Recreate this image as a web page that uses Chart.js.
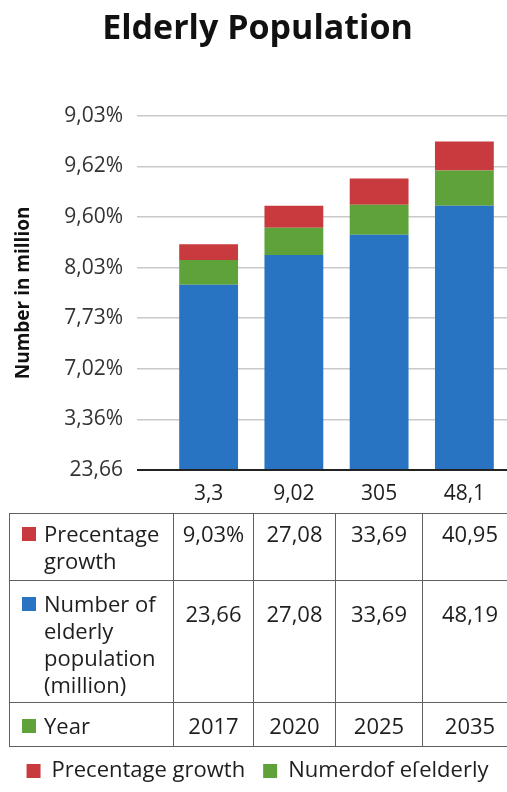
<!DOCTYPE html>
<html>
<head>
<meta charset="utf-8">
<script src="https://cdn.jsdelivr.net/npm/chart.js@4.4.1/dist/chart.umd.min.js"></script>
<style>
  html, body { margin:0; padding:0; background:#fff; width:507px; height:792px; overflow:hidden; }
  #wrap { position:relative; width:507px; height:792px; }
  canvas { position:absolute; left:0; top:0; }
  table { position:absolute; left:9px; top:513px; border-collapse:collapse; table-layout:fixed;
          font-family:"Open Sans", sans-serif; font-size:22px; color:#1e1e1e; }
  td { border:1.5px solid #606060; vertical-align:top; padding:0; line-height:27px; }
  td.num { text-align:center; }
  .lab { display:flex; align-items:flex-start; padding-left:12px; }
  .sw { width:14px; height:14px; margin-top:7px; margin-right:8px; flex:none; }
</style>
</head>
<body>
<div id="wrap">
  <canvas id="c" width="507" height="792"></canvas>
  <table id="t"></table>
</div>
<script>
const categories = ['3,3', '9,02', '305', '48,1'];
const blueValues = [3.66, 4.25, 4.65, 5.22];
const greenValues = [0.49, 0.54, 0.59, 0.70];
const redValues = [0.31, 0.43, 0.52, 0.57];
const yTickLabels = ['23,66', '3,36%', '7,02%', '7,73%', '8,03%', '9,60%', '9,62%', '9,03%'];

const growthRow = ['9,03%', '27,08', '33,69', '40,95'];
const numberRow = ['23,66', '27,08', '33,69', '48,19'];
const yearRow = ['2017', '2020', '2025', '2035'];

const RED = '#c83a3e', GREEN = '#5fa23a', BLUE = '#2873c2';

// Table
const colW = [164, 80, 82, 87, 95];
const rows = [
  { color: RED, label: ['Precentage', 'growth'], vals: growthRow, padLab: 6, padVal: 6, h: 67 },
  { color: BLUE, label: ['Number of', 'elderly', 'population', '(million)'], vals: numberRow, padLab: 9, padVal: 19, h: 122 },
  { color: GREEN, label: ['Year'], vals: yearRow, padLab: 9, padVal: 9, h: 44 }
];
const t = document.getElementById('t');
const cg = document.createElement('colgroup');
colW.forEach(w => { const c = document.createElement('col'); c.style.width = w + 'px'; cg.appendChild(c); });
t.appendChild(cg);
t.style.width = colW.reduce((a, b) => a + b, 0) + 'px';
rows.forEach(r => {
  const tr = document.createElement('tr');
  tr.style.height = r.h + 'px';
  const td0 = document.createElement('td');
  td0.style.paddingTop = r.padLab + 'px';
  td0.innerHTML = '<div class="lab"><div class="sw" style="background:' + r.color + '"></div><div>' + r.label.join('<br>') + '</div></div>';
  tr.appendChild(td0);
  r.vals.forEach(v => {
    const td = document.createElement('td');
    td.className = 'num';
    td.style.paddingTop = r.padVal + 'px';
    td.textContent = v;
    tr.appendChild(td);
  });
  t.appendChild(tr);
});

// Chart
new Chart(document.getElementById('c'), {
  type: 'bar',
  data: {
    labels: categories,
    datasets: [
      { label: 'Number of elderly population (million)', data: blueValues, backgroundColor: BLUE },
      { label: 'Numerdof eſelderly', data: greenValues, backgroundColor: GREEN },
      { label: 'Precentage growth', data: redValues, backgroundColor: RED }
    ]
  },
  options: {
    responsive: false,
    animation: false,
    layout: { padding: { left: 8, right: 0, top: 0, bottom: 0 } },
    datasets: { bar: { categoryPercentage: 1, barPercentage: 0.69 } },
    plugins: {
      title: {
        display: true,
        text: 'Elderly Population',
        color: '#111',
        font: { family: 'Open Sans', size: 34, weight: 'bold' },
        padding: { top: 9, bottom: 66 }
      },
      legend: {
        position: 'bottom',
        reverse: true,
        labels: {
          filter: (item) => item.datasetIndex !== 0,
          boxWidth: 14, boxHeight: 14,
          color: '#1e1e1e',
          font: { family: 'Open Sans', size: 22 },
          padding: 18
        }
      },
      tooltip: { enabled: false }
    },
    scales: {
      x: {
        stacked: true,
        grid: { display: false, drawTicks: false },
        border: { display: true, color: '#222', width: 2 },
        ticks: { color: '#1e1e1e', font: { family: 'Open Sans', size: 21 }, padding: 11 },
        afterFit: (scale) => { scale.height = 272; }
      },
      y: {
        stacked: true,
        min: 0, max: 7,
        ticks: {
          stepSize: 1,
          color: '#333',
          font: { family: 'Open Sans', size: 21 },
          padding: 14,
          callback: (v, i) => yTickLabels[i]
        },
        grid: {
          color: (ctx) => (ctx.tick && ctx.tick.value === 0) ? '#222' : '#c9c9c9',
          lineWidth: (ctx) => (ctx.tick && ctx.tick.value === 0) ? 2 : 1.5,
          tickLength: 29
        },
        border: { display: false },
        title: {
          display: true,
          text: 'Number in million',
          color: '#111',
          font: { family: 'Open Sans', size: 19, weight: 'bold' },
          padding: 4
        },
        afterFit: (scale) => { scale.width = 158; }
      }
    }
  }
});
</script>
</body>
</html>
